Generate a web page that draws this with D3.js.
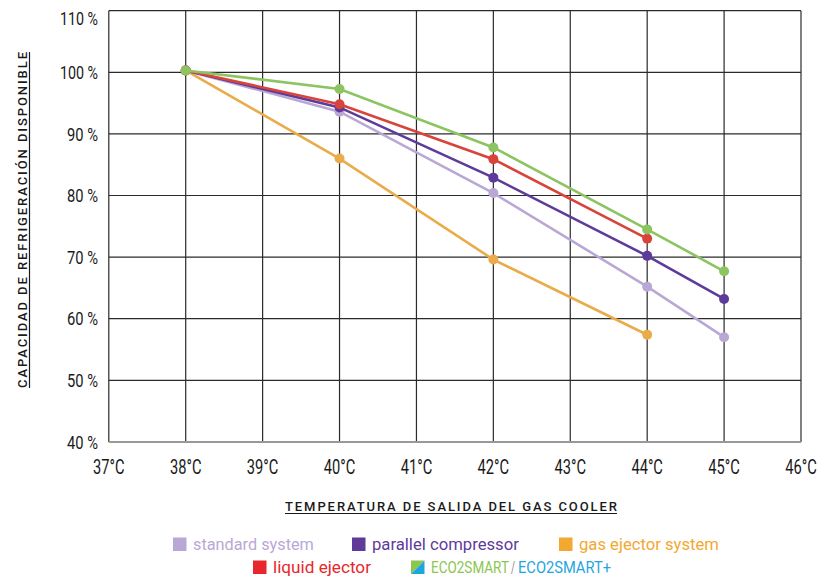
<!DOCTYPE html>
<html>
<head>
<meta charset="utf-8">
<script src="https://cdn.jsdelivr.net/npm/d3@7"></script>
<style>
  body { margin: 0; background: #fff; }
  text { font-family: "Roboto", "DejaVu Sans", sans-serif; }
</style>
</head>
<body>
<div id="chart"></div>
<script>
// data
var temps = [38, 40, 42, 44, 45];
var xTicks = [37, 38, 39, 40, 41, 42, 43, 44, 45, 46];
var yTicks = [40, 50, 60, 70, 80, 90, 100, 110];

var standardSystem = [100.3, 93.6, 80.4, 65.2, 57.0];
var parallelCompressor = [100.3, 94.3, 82.9, 70.2, 63.2];
var gasEjector = [100.3, 86.0, 69.6, 57.4];
var liquidEjector = [100.3, 94.8, 85.9, 73.0];
var eco2smart = [100.3, 97.3, 87.8, 74.5, 67.7];

var series = [
    { name: 'standard system', color: '#b9a8d5', values: standardSystem },
    { name: 'parallel compressor', color: '#5e3b9b', values: parallelCompressor },
    { name: 'gas ejector system', color: '#eaab4a', values: gasEjector },
    { name: 'liquid ejector', color: '#d9443a', values: liquidEjector },
    { name: 'ECO2SMART', color: '#8cc462', values: eco2smart }
];

var width = 835, height = 579;
var svg = d3.select('#chart').append('svg')
    .attr('width', width)
    .attr('height', height);

var x = d3.scaleLinear().domain([37, 46]).range([108.8, 801]);
var y = d3.scaleLinear().domain([40, 110]).range([441.9, 10.7]);

// grid
var grid = svg.append('g');
grid.selectAll('line.v')
    .data(xTicks)
    .enter().append('line')
    .attr('x1', function(d) { return x(d); })
    .attr('x2', function(d) { return x(d); })
    .attr('y1', y(110))
    .attr('y2', y(40))
    .style('stroke', '#2a2a2a')
    .style('stroke-width', 1.2);
grid.selectAll('line.h')
    .data(yTicks)
    .enter().append('line')
    .attr('x1', x(37))
    .attr('x2', x(46))
    .attr('y1', function(d) { return y(d); })
    .attr('y2', function(d) { return y(d); })
    .style('stroke', function(d) { return d === 40 ? '#999' : '#2a2a2a'; })
    .style('stroke-width', function(d) { return d === 40 ? 2 : 1.2; });

// tick labels (condensed look via textLength)
svg.append('g').selectAll('text')
    .data(yTicks)
    .enter().append('text')
    .attr('x', 98)
    .attr('y', function(d) { return d === 110 ? 18.5 : y(d); })
    .attr('dy', '0.36em')
    .attr('text-anchor', 'end')
    .attr('textLength', function(d) { return d >= 100 ? 38 : 31; })
    .attr('lengthAdjust', 'spacingAndGlyphs')
    .style('font-size', '18.5px')
    .style('fill', '#1a1a1a')
    .text(function(d) { return d + ' %'; });

svg.append('g').selectAll('text')
    .data(xTicks)
    .enter().append('text')
    .attr('x', function(d) { return x(d); })
    .attr('y', 466.5)
    .attr('dy', '0.36em')
    .attr('text-anchor', 'middle')
    .attr('textLength', 31.5)
    .attr('lengthAdjust', 'spacingAndGlyphs')
    .style('font-size', '19.5px')
    .style('fill', '#1a1a1a')
    .text(function(d) { return d + '°C'; });

// axis titles, underline drawn as a line so letter spacing does not break it
var yTitle = svg.append('g').attr('transform', 'translate(27,220) rotate(-90)');
yTitle.append('text')
    .attr('text-anchor', 'middle')
    .attr('textLength', 336)
    .attr('lengthAdjust', 'spacing')
    .style('font-size', '13px')
    .style('font-weight', 500)
    .style('fill', '#1a1a1a')
    .text('CAPACIDAD DE REFRIGERACIÓN DISPONIBLE');
yTitle.append('line')
    .attr('x1', -168).attr('x2', 168)
    .attr('y1', 2.5).attr('y2', 2.5)
    .style('stroke', '#1a1a1a')
    .style('stroke-width', 1.2);

var xTitle = svg.append('g').attr('transform', 'translate(451,511)');
xTitle.append('text')
    .attr('text-anchor', 'middle')
    .attr('textLength', 332)
    .attr('lengthAdjust', 'spacing')
    .style('font-size', '13px')
    .style('font-weight', 500)
    .style('fill', '#1a1a1a')
    .text('TEMPERATURA DE SALIDA DEL GAS COOLER');
xTitle.append('line')
    .attr('x1', -166).attr('x2', 166)
    .attr('y1', 2.5).attr('y2', 2.5)
    .style('stroke', '#1a1a1a')
    .style('stroke-width', 1.2);

// lines and dots
var line = d3.line()
    .x(function(d, i) { return x(temps[i]); })
    .y(function(d) { return y(d); });

var drawOrder = [2, 0, 1, 3, 4];
drawOrder.forEach(function(k) {
    var s = series[k];
    var g = svg.append('g');
    g.append('path')
        .datum(s.values)
        .attr('d', line)
        .style('fill', 'none')
        .style('stroke', s.color)
        .style('stroke-width', 2.6);
    g.selectAll('circle')
        .data(s.values)
        .enter().append('circle')
        .attr('cx', function(d, i) { return x(temps[i]); })
        .attr('cy', function(d) { return y(d); })
        .attr('r', 5)
        .style('fill', s.color);
});

// legend
var legendItems = [
    { label: 'standard system', color: '#b9a8d5', x: 173, y: 544, w: 121 },
    { label: 'parallel compressor', color: '#5e3b9b', x: 352, y: 544, w: 147 },
    { label: 'gas ejector system', color: '#f2a831', x: 559, y: 544, w: 140 },
    { label: 'liquid ejector', color: '#e8262b', x: 253, y: 567, w: 98 }
];
var legend = svg.append('g');
// squeeze each label horizontally to the width it has in the picture
function legendText(tx, ty, w, color, label) {
    var t = legend.append('text')
        .attr('dy', '0.35em')
        .style('font-size', '16.5px')
        .style('fill', color)
        .text(label);
    var natural = t.node().getComputedTextLength();
    t.attr('transform', 'translate(' + tx + ',' + ty + ') scale(' + (w / natural) + ',1)');
}
legendItems.forEach(function(it) {
    legend.append('rect')
        .attr('x', it.x)
        .attr('y', it.y - 6.5)
        .attr('width', 13.5)
        .attr('height', 13.5)
        .style('fill', it.color);
    legendText(it.x + 20, it.y, it.w, it.color, it.label);
});

// split square for ECO2SMART / ECO2SMART+
var ex = 411, ey = 567;
legend.append('path')
    .attr('d', 'M' + ex + ',' + (ey - 6.5) + 'h13.5l-13.5,13.5z')
    .style('fill', '#8cc54f');
legend.append('path')
    .attr('d', 'M' + (ex + 13.5) + ',' + (ey - 6.5) + 'v13.5h-13.5z')
    .style('fill', '#1fa6de');
legendText(431, ey, 78, '#8cc54f', 'ECO2SMART');
legendText(511, ey, 4, '#888', '/');
legendText(518, ey, 93, '#1fa6de', 'ECO2SMART+');
</script>
</body>
</html>
